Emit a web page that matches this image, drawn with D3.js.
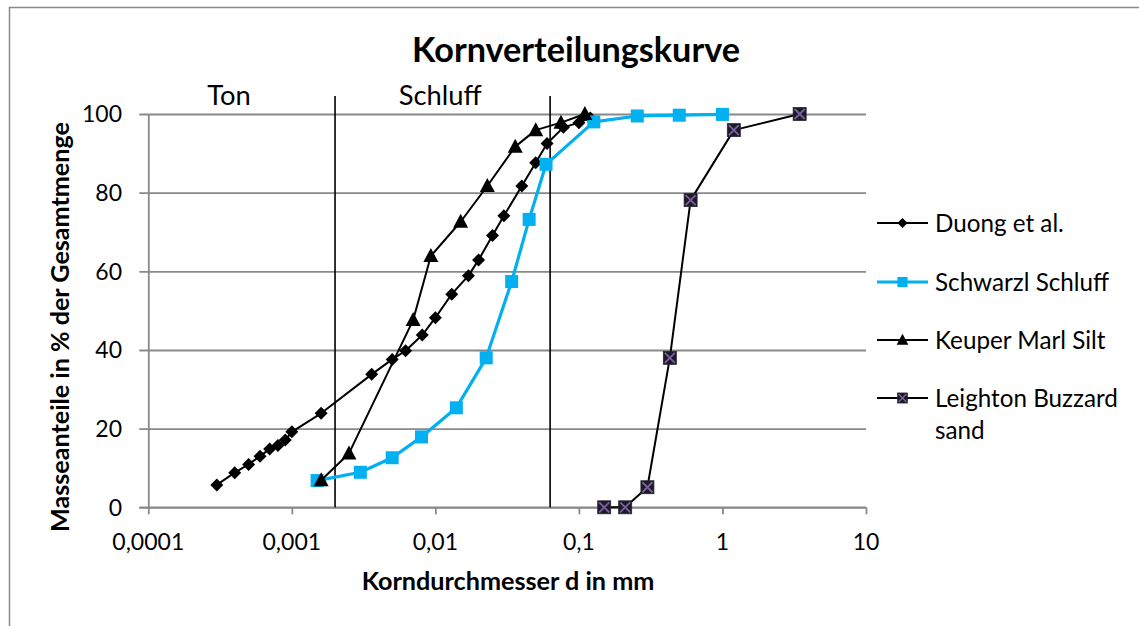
<!DOCTYPE html>
<html>
<head>
<meta charset="utf-8">
<script src="https://cdn.jsdelivr.net/npm/d3@7/dist/d3.min.js"></script>
<style>
  html, body { margin: 0; padding: 0; background: #fff; }
  svg { display: block; font-family: Lato, "Open Sans", sans-serif; }
</style>
</head>
<body>
<svg id="chart" width="1139" height="626"></svg>
<script>
// Korngrößenverteilung – Durchmesser in mm, Siebdurchgang in %
const duongD = [0.0003, 0.0004, 0.0005, 0.0006, 0.0007, 0.0008, 0.0009, 0.001, 0.0016, 0.0036, 0.005, 0.0062, 0.0081, 0.01, 0.013, 0.017, 0.02, 0.025, 0.03, 0.04, 0.05, 0.06, 0.078, 0.1, 0.12];
const duongP = [5.7, 8.8, 10.9, 13.0, 14.8, 15.7, 17.1, 19.2, 23.9, 33.8, 37.6, 39.8, 43.8, 48.2, 54.2, 58.9, 62.9, 69.1, 74.1, 81.7, 87.6, 92.5, 96.6, 97.8, 99.0];

const schwarzlD = [0.0015, 0.003, 0.005, 0.008, 0.014, 0.0226, 0.034, 0.045, 0.059, 0.127, 0.255, 0.5, 1.0];
const schwarzlP = [6.8, 8.9, 12.6, 17.9, 25.3, 38.0, 57.4, 73.2, 87.2, 98.0, 99.5, 99.7, 99.9];

const keuperD = [0.0016, 0.0025, 0.007, 0.0093, 0.015, 0.023, 0.036, 0.05, 0.075, 0.11];
const keuperP = [6.9, 13.7, 47.6, 63.9, 72.6, 81.7, 91.7, 95.9, 97.8, 100];

const leightonD = [0.15, 0.21, 0.3, 0.43, 0.6, 1.2, 3.45];
const leightonP = [0, 0, 5.1, 38.0, 78.1, 95.9, 100];

const seriesNames = ["Duong et al.", "Schwarzl Schluff", "Keuper Marl Silt", "Leighton Buzzard sand"];

const xTickValues = [0.0001, 0.001, 0.01, 0.1, 1, 10];
const xTickLabels = ["0,0001", "0,001", "0,01", "0,1", "1", "10"];
const yTickValues = [0, 20, 40, 60, 80, 100];

// Bodenart-Grenzen (Ton / Schluff)
const boundaryD = [0.002, 0.063];
const zoneLabels = ["Ton", "Schluff"];
const zoneLabelD = [0.000365, 0.0108];

const titleText = "Kornverteilungskurve";
const xTitleText = "Korndurchmesser d in mm";
const yTitleText = "Masseanteile in % der Gesamtmenge";

// ---------------------------------------------------------------
const svg = d3.select("#chart");
const W = 1139, H = 626;

const plot = { left: 148.3, right: 866, top: 114, bottom: 507.3 };

const x = d3.scaleLog().domain([1e-4, 10]).range([plot.left, plot.right]);
const y = d3.scaleLinear().domain([0, 100]).range([plot.bottom, plot.top]);

const gridColor = "#898989";

// set font size so the text occupies a given width
function fitWidth(sel, target) {
  sel.style("font-size", "20px");
  const len = sel.node().getComputedTextLength();
  const size = 20 * target / len;
  sel.style("font-size", size + "px");
  return size;
}

// chart frame
svg.append("rect")
  .attr("x", 9.5).attr("y", 7.5)
  .attr("width", W + 20).attr("height", H + 20)
  .attr("fill", "#fff")
  .attr("stroke", "#8a8a8a").attr("stroke-width", 1.5);

// horizontal gridlines with tick stubs
const yAxis = d3.axisLeft(y).tickValues(yTickValues).tickSize(-(plot.right - plot.left)).tickSizeOuter(0).tickFormat("");
const gy = svg.append("g").attr("transform", `translate(${plot.left},0)`).call(yAxis);
gy.select(".domain").attr("stroke", gridColor).attr("stroke-width", 1.8);
gy.selectAll(".tick line").attr("stroke", gridColor).attr("stroke-width", 1.8).attr("x1", -9);

// x axis
const xAxis = d3.axisBottom(x).tickValues(xTickValues).tickSize(7).tickSizeOuter(0).tickFormat("");
const gx = svg.append("g").attr("transform", `translate(0,${plot.bottom})`).call(xAxis);
gx.select(".domain").attr("stroke", gridColor).attr("stroke-width", 1.8).attr("d", `M${plot.left - 9},0H${plot.right}`);
gx.selectAll(".tick line").attr("stroke", gridColor).attr("stroke-width", 1.8);

// tick labels
const xLab = svg.append("g").selectAll("text").data(xTickValues).join("text")
  .attr("x", d => x(d)).attr("y", 550)
  .attr("text-anchor", "middle").attr("fill", "#000")
  .text((d, i) => xTickLabels[i]);
const tickSize = fitWidth(xLab.filter((d, i) => i === 0), 72);
xLab.style("font-size", tickSize + "px");

svg.append("g").selectAll("text").data(yTickValues).join("text")
  .attr("x", 122).attr("y", d => y(d)).attr("dy", "0.36em")
  .attr("text-anchor", "end").attr("fill", "#000")
  .style("font-size", tickSize + "px")
  .text(d => d);

// boundary lines
svg.append("g").selectAll("line").data(boundaryD).join("line")
  .attr("x1", d => x(d)).attr("x2", d => x(d))
  .attr("y1", 96).attr("y2", plot.bottom)
  .attr("stroke", "#000").attr("stroke-width", 1.6);

// zone labels
const zl = svg.append("g").selectAll("text").data(zoneLabels).join("text")
  .attr("x", (d, i) => x(zoneLabelD[i])).attr("y", 105)
  .attr("text-anchor", "middle").attr("fill", "#000")
  .text(d => d);
const zoneSize = fitWidth(zl.filter((d, i) => i === 1), 83);
zl.style("font-size", zoneSize + "px");

// title
const title = svg.append("text")
  .attr("x", 576).attr("y", 62).attr("text-anchor", "middle")
  .attr("font-weight", "bold").attr("fill", "#000").text(titleText);
fitWidth(title, 328);

// axis titles
const xt = svg.append("text")
  .attr("x", 508).attr("y", 590).attr("text-anchor", "middle")
  .attr("font-weight", "bold").attr("fill", "#000").text(xTitleText);
fitWidth(xt, 293);

const yt = svg.append("text")
  .attr("transform", "translate(69,327) rotate(-90)")
  .attr("text-anchor", "middle")
  .attr("font-weight", "bold").attr("fill", "#000").text(yTitleText);
fitWidth(yt, 410);

// marker shapes
const markerDraw = {
  diamond: (g) => g.append("path").attr("d", "M0,-6.5L6.5,0L0,6.5L-6.5,0Z").attr("fill", "#000"),
  square: (g) => g.append("rect").attr("x", -6.5).attr("y", -6.5).attr("width", 13).attr("height", 13).attr("fill", "#00B0F0"),
  triangle: (g) => g.append("path").attr("d", "M0,-8L7.5,6L-7.5,6Z").attr("fill", "#000"),
  xsquare: (g) => {
    g.append("rect").attr("x", -6.5).attr("y", -6.5).attr("width", 13).attr("height", 13)
      .attr("fill", "#1c1a24").attr("stroke", "#2a2635").attr("stroke-width", 0.8);
    g.append("path").attr("d", "M-5,-5L5,5M5,-5L-5,5").attr("stroke", "#7d5fa8").attr("stroke-width", 1.8);
  }
};

const series = [
  { name: seriesNames[0], d: duongD, p: duongP, color: "#000", width: 2, marker: "diamond" },
  { name: seriesNames[1], d: schwarzlD, p: schwarzlP, color: "#00B0F0", width: 3.2, marker: "square" },
  { name: seriesNames[2], d: keuperD, p: keuperP, color: "#000", width: 2, marker: "triangle" },
  { name: seriesNames[3], d: leightonD, p: leightonP, color: "#000", width: 2, marker: "xsquare" }
];

const line = d3.line().x(v => x(v[0])).y(v => y(v[1]));

series.forEach(s => {
  const pts = s.d.map((d, i) => [d, s.p[i]]);
  const g = svg.append("g");
  g.append("path").datum(pts).attr("d", line)
    .attr("fill", "none").attr("stroke", s.color)
    .attr("stroke-width", s.width).attr("stroke-linejoin", "round");
  g.selectAll("g.m").data(pts).join("g").attr("class", "m")
    .attr("transform", v => `translate(${x(v[0])},${y(v[1])})`)
    .each(function () { markerDraw[s.marker](d3.select(this)); });
});

// legend
const legRows = [223, 282, 340, 398];
const leg = svg.append("g");
let legTexts = [];
series.forEach((s, i) => {
  const gy0 = legRows[i];
  leg.append("line").attr("x1", 877).attr("x2", 928).attr("y1", gy0).attr("y2", gy0)
    .attr("stroke", s.color).attr("stroke-width", s.width);
  const mg = leg.append("g").attr("transform", `translate(902.5,${gy0}) scale(0.78)`);
  markerDraw[s.marker](mg);
  const words = s.name === seriesNames[3] ? ["Leighton Buzzard", "sand"] : [s.name];
  words.forEach((w, j) => {
    legTexts.push(leg.append("text").attr("x", 935).attr("y", gy0 + j * 32).attr("dy", "0.36em")
      .attr("fill", "#000").text(w));
  });
});
const legSize = fitWidth(legTexts[3], 183);
legTexts.forEach(t => t.style("font-size", legSize + "px"));
</script>
</body>
</html>
